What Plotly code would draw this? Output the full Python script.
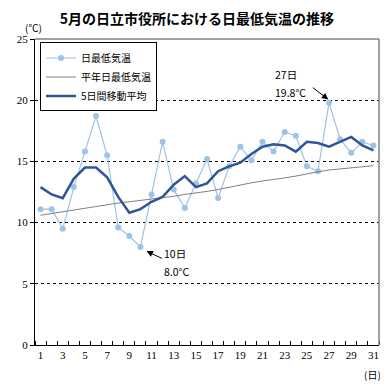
import plotly.graph_objects as go

days = list(range(1, 32))
daily_min = [11.1, 11.1, 9.5, 12.9, 15.8, 18.7, 15.5, 9.6, 8.9, 8.0, 12.3, 16.6, 12.7, 11.2, 13.2,
             15.2, 12.0, 14.6, 16.2, 15.1, 16.6, 15.8, 17.4, 17.1, 14.6, 14.2, 19.8, 16.8, 15.7, 16.6, 16.3]
normal_min = [10.6, 10.75, 10.9, 11.05, 11.2, 11.35, 11.5, 11.6, 11.7, 11.8, 11.9, 12.0, 12.15, 12.3, 12.4,
              12.55, 12.7, 12.9, 13.1, 13.25, 13.4, 13.5, 13.65, 13.8, 14.0, 14.15, 14.3, 14.4, 14.45, 14.55, 14.65]
moving_avg = [12.9, 12.3, 12.0, 13.6, 14.5, 14.5, 13.7, 12.1, 10.8, 11.1, 11.7, 12.1, 13.1, 13.8, 12.9,
              13.2, 14.2, 14.6, 14.9, 15.6, 16.2, 16.4, 16.3, 15.8, 16.6, 16.5, 16.2, 16.6, 17.0, 16.3, 15.9]
xtick_vals = list(range(1, 32, 2))
ytick_vals = [0, 5, 10, 15, 20, 25]

jp = "Noto Sans CJK JP"
serif = "Liberation Serif"

# page body has an 8px default margin; figure is sized to fit the 388x390 window
W, H = 380, 382
ML, MR, MT, MB = 25, 9, 30.5, 45
PW = W - ML - MR
PH = H - MT - MB

fig = go.Figure()
fig.add_trace(go.Scatter(x=days, y=daily_min, name="日最低気温", mode="lines+markers",
                         line=dict(color="#9DC3E6", width=1.2),
                         marker=dict(color="#9DC3E6", size=6)))
fig.add_trace(go.Scatter(x=days, y=normal_min, name="平年日最低気温", mode="lines",
                         line=dict(color="#808080", width=1)))
fig.add_trace(go.Scatter(x=days, y=moving_avg, name="5日間移動平均", mode="lines",
                         line=dict(color="#2F5597", width=2.5)))

fig.update_layout(
    width=W, height=H,
    margin=dict(l=ML, r=MR, t=MT, b=MB, pad=0),
    paper_bgcolor="white", plot_bgcolor="white",
    showlegend=True,
    title=dict(text="<b>5月の日立市役所における日最低気温の推移</b>",
               x=(197 - 8) / W, xanchor="center", y=1 - (19 - 8) / H, yanchor="middle",
               font=dict(family=jp, size=14, color="black")),
    legend=dict(x=(38 - 33) / PW, y=1 - (42 - 38.5) / PH, xanchor="left", yanchor="top",
                bgcolor="white", bordercolor="black", borderwidth=1,
                font=dict(family=jp, size=10, color="black"),
                itemwidth=30, tracegroupgap=0),
    font=dict(family=jp, color="black"),
)

fig.update_xaxes(range=[0.5, 31.5], tickmode="array", tickvals=xtick_vals,
                 ticks="", showgrid=False, zeroline=False,
                 showline=True, linecolor="black", linewidth=1,
                 tickfont=dict(family=serif, size=11, color="black"),
                 minor=dict(tick0=0.5, dtick=1, ticks="inside", ticklen=4,
                            tickcolor="black", showgrid=False))
fig.update_yaxes(range=[0, 25], tickmode="array", tickvals=ytick_vals,
                 ticks="outside", ticklen=4, tickcolor="black",
                 showgrid=True, gridcolor="black", griddash="dot", gridwidth=1,
                 zeroline=False, showline=True, linecolor="black", linewidth=1,
                 tickfont=dict(family=serif, size=11, color="black"))

# gray top/right frame
fig.add_shape(type="line", xref="paper", yref="paper", x0=0, x1=1, y0=1, y1=1,
              line=dict(color="#808080", width=1.5))
fig.add_shape(type="line", xref="paper", yref="paper", x0=1, x1=1, y0=0, y1=1,
              line=dict(color="#808080", width=1.5))

fig.add_annotation(text="(℃)", xref="paper", yref="paper", x=(31 - 33) / PW, y=(345 - 27) / PH,
                   xanchor="center", yanchor="middle",
                   showarrow=False, font=dict(family=jp, size=10))
fig.add_annotation(text="(日)", xref="paper", yref="paper", x=(372 - 33) / PW, y=(345 - 375) / PH,
                   xanchor="center", yanchor="middle",
                   showarrow=False, font=dict(family=jp, size=10))

fig.add_annotation(text="27日", x=23.08, y=22.1, showarrow=False, font=dict(family=jp, size=10.5))
fig.add_annotation(text="19.8°C", x=23.53, y=20.64, showarrow=False, font=dict(family=jp, size=10.5))
fig.add_annotation(text="", x=26.93, y=20.06, ax=-17, ay=-13, showarrow=True,
                   arrowhead=2, arrowsize=1.3, arrowwidth=1, arrowcolor="black", standoff=0)
fig.add_annotation(text="10日", x=13.13, y=7.5, showarrow=False, font=dict(family=jp, size=10.5))
fig.add_annotation(text="8.0°C", x=13.22, y=6.04, showarrow=False, font=dict(family=jp, size=10.5))
fig.add_annotation(text="", x=10.54, y=7.67, ax=17, ay=8, showarrow=True,
                   arrowhead=2, arrowsize=1.3, arrowwidth=1, arrowcolor="black", standoff=0)

fig.write_html("out.html")
